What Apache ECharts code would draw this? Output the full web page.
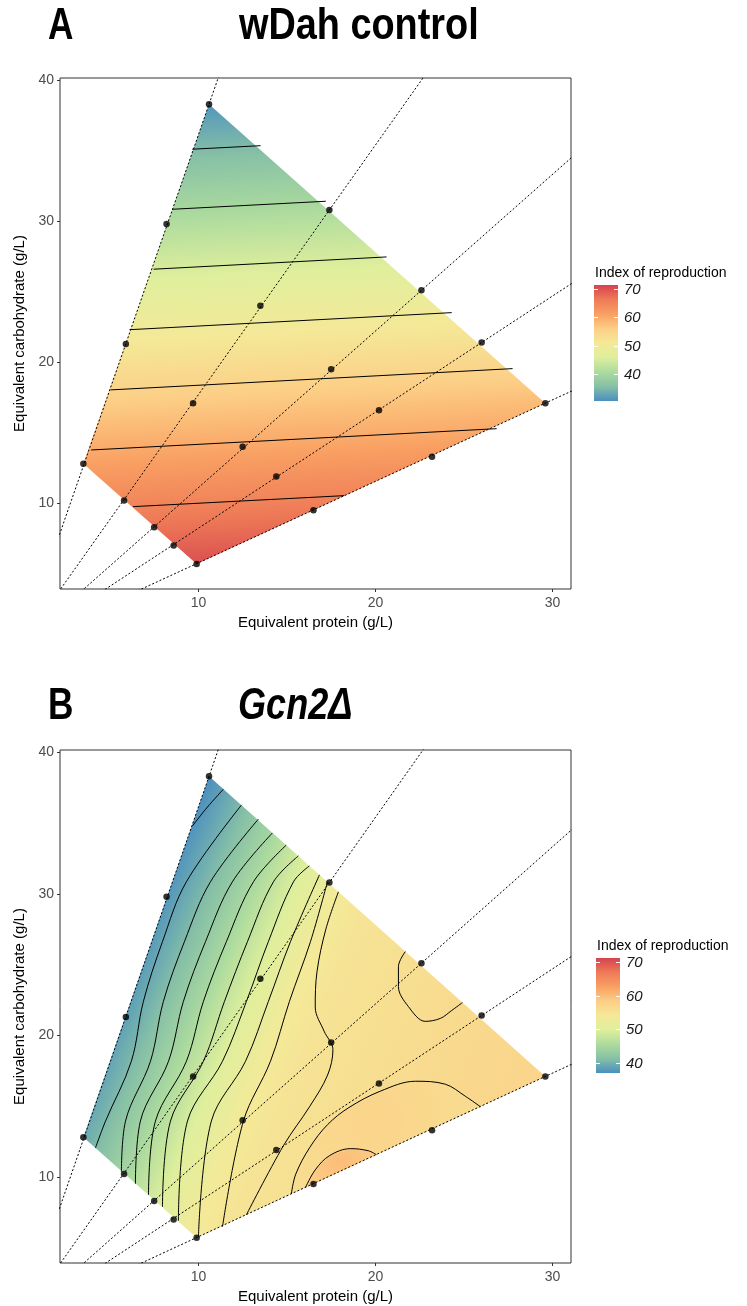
<!DOCTYPE html>
<html>
<head>
<meta charset="utf-8">
<script src="https://cdn.jsdelivr.net/npm/echarts@6/dist/echarts.min.js"></script>
<style>
html, body { margin: 0; padding: 0; background: #fff; }
#main { width: 747px; height: 1306px; }
</style>
</head>
<body>
<div id="main"></div>
<script>
// diets: protein, carbohydrate (g/L) - 5 P:C rays x 4 dilutions
var dietPoints = [
  [10.6, 38.3], [8.2, 29.8], [5.9, 21.3], [3.5, 12.8],
  [17.4, 30.8], [13.5, 24.0], [9.7, 17.1], [5.8, 10.2],
  [22.6, 25.1], [17.5, 19.5], [12.5, 14.0], [7.5, 8.3],
  [26.0, 21.4], [20.2, 16.6], [14.4, 11.9], [8.6, 7.0],
  [29.6, 17.1], [23.2, 13.3], [16.5, 9.5], [9.9, 5.7]
];
var rayGroups = [[0, 1, 2, 3], [4, 5, 6, 7], [8, 9, 10, 11], [12, 13, 14, 15], [16, 17, 18, 19]];
var hullIdx = [0, 16, 19, 3]; // corners of the diet space

var xRange = [2.18, 31.05];
var yRange = [3.92, 40.16];
var xTicks = [10, 20, 30];
var yTicks = [10, 20, 30, 40];
var legendTicks = [40, 50, 60, 70];

// panel A: wDah control
var contourLevelsA = [35, 40, 45, 50, 55, 60, 65];
var contourLinesA = [
  [[9.65, 35.11], [13.51, 35.36]],
  [[8.52, 30.85], [17.20, 31.42]],
  [[7.47, 26.60], [20.63, 27.47]],
  [[6.11, 22.31], [24.31, 23.52]],
  [[5.04, 18.04], [27.75, 19.55]],
  [[3.94, 13.78], [26.85, 15.29]],
  [[6.30, 9.76], [18.24, 10.54]]
];
var fillRangeA = [31.2, 70.2];     // surface value at lowest / highest corner
var legendRangeA = [30.5, 71.4];

// panel B: Gcn2 delta
var contourLevelsB = [38, 40, 42, 44, 46, 48, 50, 52, 54, 55, 56, 56, 58];
var contourLinesB = [
  [[11.41, 37.39], [10.51, 36.13], [9.66, 34.79]],
  [[12.43, 36.27], [9.32, 30.85], [7.97, 26.62], [6.89, 22.39], [6.21, 18.17], [4.75, 13.94], [4.18, 12.04]],
  [[13.39, 35.28], [10.68, 30.85], [9.21, 26.62], [8.02, 22.39], [7.29, 18.17], [5.88, 13.94], [5.65, 10.35]],
  [[14.18, 34.30], [11.92, 30.85], [10.40, 26.62], [9.15, 22.39], [8.31, 18.17], [6.72, 13.94], [6.44, 9.51]],
  [[14.97, 33.45], [13.11, 30.85], [11.58, 26.62], [10.28, 22.39], [9.32, 18.17], [7.57, 13.94], [7.18, 8.73]],
  [[15.65, 32.68], [14.24, 30.85], [12.77, 26.62], [11.47, 22.39], [10.28, 18.17], [8.42, 13.94], [7.97, 7.89]],
  [[16.27, 31.97], [15.37, 30.85], [13.95, 26.62], [12.71, 22.39], [11.36, 18.17], [9.38, 13.94], [8.87, 6.90]],
  [[16.84, 31.34], [15.20, 26.62], [13.95, 22.39], [12.66, 18.17], [10.73, 13.94], [10.0, 5.77]],
  [[17.29, 30.85], [16.33, 26.62], [15.14, 22.39], [14.07, 18.17], [12.54, 13.94], [11.36, 6.48]],
  [[17.91, 30.14], [17.2, 27.5], [16.7, 24.5], [16.6, 22.0], [17.1, 20.3], [17.6, 19.0], [17.3, 17.2], [16.3, 15.0], [14.8, 12.2], [12.71, 7.32]],
  [[21.69, 25.92], [21.30, 24.86], [21.30, 23.45], [21.86, 22.04], [22.82, 20.99], [23.67, 21.20], [24.3, 21.75], [24.92, 22.32]],
  [[15.25, 8.80], [15.5, 10.2], [16.3, 12.1], [17.3, 13.7], [18.5, 14.9], [20.28, 16.06], [22.26, 16.76], [23.95, 16.55], [25.08, 15.70], [25.93, 14.96]],
  [[16.05, 9.26], [16.6, 10.5], [17.4, 11.5], [18.6, 12.0], [19.6, 11.85], [20.06, 11.57]]
];
var fillRangeB = [37, 57.5];
var legendRangeB = [37, 71.2];
var peakB = 60; // value inside the closed lower-right contour

var panelA = {
  lines: contourLinesA, levels: contourLevelsA, gradLines: [0, 1, 2, 3, 4, 5, 6],
  dirLine: 3, fillRange: fillRangeA, legendRange: legendRangeA, smooth: false, regions: []
};
var panelB = {
  lines: contourLinesB, levels: contourLevelsB, gradLines: [0, 1, 2, 3, 4, 5, 6, 7, 8, 9, 10],
  dirLine: 1, fillRange: fillRangeB, legendRange: legendRangeB, smooth: 0.35,
  regions: [[11, 56, 57.5], [12, 58, peakB]] // contour index, edge value, centre value
};

// Spectral-like ramp, low to high, as it looks in the picture
var spectral = ['#4A8FC0', '#86C0A6', '#ADDB9E', '#DFEF9C', '#F4E998', '#FCCE86', '#F9A063', '#EE7A57', '#D5434F'];

function hexRgb(h) {
  return [parseInt(h.substr(1, 2), 16), parseInt(h.substr(3, 2), 16), parseInt(h.substr(5, 2), 16)];
}
function valueColor(v, range) {
  var t = (v - range[0]) / (range[1] - range[0]);
  t = Math.max(0, Math.min(1, t));
  var pos = t * (spectral.length - 1);
  var i = Math.min(Math.floor(pos), spectral.length - 2);
  var f = pos - i;
  var a = hexRgb(spectral[i]), b = hexRgb(spectral[i + 1]);
  var c = [0, 1, 2].map(function (k) { return Math.round(a[k] + (b[k] - a[k]) * f); });
  return 'rgb(' + c.join(',') + ')';
}

// fill of the response surface: gradient across the contour lines
function surfaceGradient(api, panel) {
  var hull = hullIdx.map(function (i) { return api.coord(dietPoints[i]); });
  var ref = panel.lines[panel.dirLine];
  var p0 = api.coord(ref[0]), p1 = api.coord(ref[ref.length - 1]);
  var len = Math.sqrt(Math.pow(p1[0] - p0[0], 2) + Math.pow(p1[1] - p0[1], 2));
  var d = [-(p1[1] - p0[1]) / len, (p1[0] - p0[0]) / len];
  function proj(p) { return p[0] * d[0] + p[1] * d[1]; }
  function meanProj(line) {
    var s = 0;
    line.forEach(function (q) { s += proj(api.coord(q)); });
    return s / line.length;
  }
  var g = panel.gradLines;
  if (meanProj(panel.lines[g[g.length - 1]]) < meanProj(panel.lines[g[0]])) {
    d = [-d[0], -d[1]];
  }
  var ps = hull.map(proj);
  var pmin = Math.min.apply(null, ps), pmax = Math.max.apply(null, ps);
  var start = hull[ps.indexOf(pmin)];
  var knots = [[pmin, panel.fillRange[0]]];
  g.forEach(function (k) { knots.push([meanProj(panel.lines[k]), panel.levels[k]]); });
  knots.push([pmax, panel.fillRange[1]]);
  knots.sort(function (a, b) { return a[0] - b[0]; });
  var stops = [];
  for (var i = 0; i < knots.length - 1; i++) {
    for (var s = 0; s < 6; s++) {
      var f = s / 6;
      var pos = knots[i][0] + (knots[i + 1][0] - knots[i][0]) * f;
      var v = knots[i][1] + (knots[i + 1][1] - knots[i][1]) * f;
      stops.push({ offset: Math.max(0, Math.min(1, (pos - pmin) / (pmax - pmin))), color: valueColor(v, panel.legendRange) });
    }
  }
  stops.push({ offset: 1, color: valueColor(knots[knots.length - 1][1], panel.legendRange) });
  var span = pmax - pmin;
  return new echarts.graphic.LinearGradient(start[0], start[1], start[0] + d[0] * span, start[1] + d[1] * span, stops, true);
}

function regionShape(api, panel, reg) {
  var pts = panel.lines[reg[0]].map(function (q) { return api.coord(q); });
  var cx = 0, cy = 0;
  pts.forEach(function (p) { cx += p[0]; cy += p[1]; });
  cx /= pts.length; cy /= pts.length;
  var r = 1;
  pts.forEach(function (p) { r = Math.max(r, Math.sqrt(Math.pow(p[0] - cx, 2) + Math.pow(p[1] - cy, 2))); });
  return {
    type: 'polygon',
    shape: { points: pts },
    style: {
      fill: new echarts.graphic.RadialGradient(cx, cy, r, [
        { offset: 0, color: valueColor(reg[2], panel.legendRange) },
        { offset: 1, color: valueColor(reg[1], panel.legendRange) }
      ], true)
    }
  };
}

function panelSeries(gi, panel) {
  var list = [];
  list.push({
    type: 'custom', coordinateSystem: 'cartesian2d', xAxisIndex: gi, yAxisIndex: gi,
    data: [dietPoints[hullIdx[0]]], silent: true, z: 1,
    renderItem: function (params, api) {
      var hull = hullIdx.map(function (i) { return api.coord(dietPoints[i]); });
      var children = [{ type: 'polygon', shape: { points: hull }, style: { fill: surfaceGradient(api, panel) } }];
      panel.regions.forEach(function (reg) { children.push(regionShape(api, panel, reg)); });
      return { type: 'group', children: children };
    }
  });
  rayGroups.forEach(function (g) {
    var far = dietPoints[g[0]];
    list.push({
      type: 'line', xAxisIndex: gi, yAxisIndex: gi, data: [[0, 0], [far[0] * 3, far[1] * 3]],
      symbol: 'none', silent: true, clip: true, z: 2,
      lineStyle: { color: '#000', width: 1, type: [2, 2] }
    });
  });
  panel.lines.forEach(function (ln) {
    list.push({
      type: 'line', xAxisIndex: gi, yAxisIndex: gi, data: ln, symbol: 'none', silent: true,
      smooth: panel.smooth, clip: true, z: 3,
      lineStyle: { color: '#000', width: 1 }
    });
  });
  list.push({
    type: 'scatter', xAxisIndex: gi, yAxisIndex: gi, data: dietPoints, symbolSize: 6.5,
    itemStyle: { color: '#000' }, silent: true, z: 4
  });
  return list;
}

function makeXAxis(gi) {
  return {
    type: 'value', gridIndex: gi, min: xRange[0], max: xRange[1],
    name: 'Equivalent protein (g/L)', nameLocation: 'middle', nameGap: 26,
    nameTextStyle: { color: '#000', fontSize: 15 },
    axisLine: { show: false, onZero: false },
    axisTick: { show: true, length: 3, lineStyle: { color: '#333' }, customValues: xTicks },
    axisLabel: { color: '#4d4d4d', fontSize: 14, margin: 7, customValues: xTicks },
    splitLine: { show: false }
  };
}
function makeYAxis(gi) {
  return {
    type: 'value', gridIndex: gi, min: yRange[0], max: yRange[1],
    name: 'Equivalent carbohydrate (g/L)', nameLocation: 'middle', nameGap: 32, nameRotate: 90,
    nameTextStyle: { color: '#000', fontSize: 15 },
    axisLine: { show: false, onZero: false },
    axisTick: { show: true, length: 3, lineStyle: { color: '#333' }, customValues: yTicks },
    axisLabel: { color: '#4d4d4d', fontSize: 14, margin: 6, customValues: yTicks },
    splitLine: { show: false }
  };
}

function legendGraphics(box, range) {
  var els = [];
  var stops = [];
  for (var k = 0; k <= 24; k++) {
    var v = range[1] - (range[1] - range[0]) * k / 24;
    stops.push({ offset: k / 24, color: valueColor(v, range) });
  }
  els.push({ type: 'text', x: box.x + 1, y: box.titleY,
    style: { text: 'Index of reproduction', font: '14px "Liberation Sans", Arial', fill: '#000', verticalAlign: 'middle' } });
  els.push({ type: 'rect', shape: { x: box.x, y: box.y, width: box.w, height: box.h },
    style: { fill: new echarts.graphic.LinearGradient(0, 0, 0, 1, stops) } });
  legendTicks.forEach(function (t) {
    var y = Math.round(box.y + box.h - (t - range[0]) / (range[1] - range[0]) * box.h) + 0.5;
    els.push({ type: 'line', shape: { x1: box.x, y1: y, x2: box.x + 4, y2: y }, style: { stroke: '#fff', lineWidth: 1 } });
    els.push({ type: 'line', shape: { x1: box.x + box.w - 4, y1: y, x2: box.x + box.w, y2: y }, style: { stroke: '#fff', lineWidth: 1 } });
    els.push({ type: 'text', x: box.x + box.w + 6, y: y,
      style: { text: String(t), font: 'italic 15px "Liberation Sans", Arial', fill: '#1a1a1a', verticalAlign: 'middle' } });
  });
  return els;
}

var titleFont = 'bold 44px "Liberation Sans", Arial';
var graphics = [
  { type: 'text', x: 48, y: 27, scaleX: 0.8, style: { text: 'A', font: titleFont, fill: '#000', verticalAlign: 'middle' } },
  { type: 'text', x: 239, y: 27, scaleX: 0.86, style: { text: 'wDah control', font: titleFont, fill: '#000', verticalAlign: 'middle' } },
  { type: 'text', x: 48, y: 707, scaleX: 0.8, style: { text: 'B', font: titleFont, fill: '#000', verticalAlign: 'middle' } },
  { type: 'text', x: 238, y: 707, scaleX: 0.82, style: { text: 'Gcn2Δ', font: 'italic ' + titleFont, fill: '#000', verticalAlign: 'middle' } }
];
graphics = graphics
  .concat(legendGraphics({ x: 594, y: 285, w: 24, h: 116, titleY: 273 }, legendRangeA))
  .concat(legendGraphics({ x: 596, y: 958, w: 24, h: 115, titleY: 946 }, legendRangeB));

var chart = echarts.init(document.getElementById('main'));
var option = {
  animation: false,
  backgroundColor: '#fff',
  textStyle: { fontFamily: '"Liberation Sans", Arial, sans-serif' },
  grid: [
    { left: 60, top: 78, width: 511, height: 511, show: true, borderColor: '#333', borderWidth: 1, backgroundColor: '#fff' },
    { left: 60, top: 750, width: 511, height: 513, show: true, borderColor: '#333', borderWidth: 1, backgroundColor: '#fff' }
  ],
  xAxis: [makeXAxis(0), makeXAxis(1)],
  yAxis: [makeYAxis(0), makeYAxis(1)],
  series: panelSeries(0, panelA).concat(panelSeries(1, panelB)),
  graphic: graphics
};
chart.setOption(option);
</script>
</body>
</html>
